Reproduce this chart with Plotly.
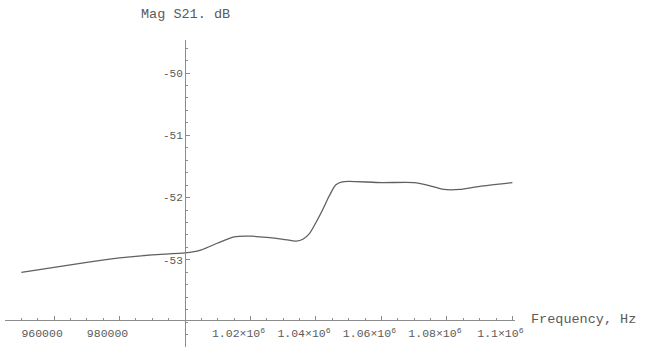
import plotly.graph_objects as go

# Measured transmission magnitude |S21| versus frequency
freq_hz = [950000, 960000, 970000, 980000, 990000, 1000000, 1005000, 1010000,
           1015000, 1020000, 1025000, 1030000, 1034000, 1036000, 1038000,
           1040000, 1042000, 1044000, 1046000, 1048000, 1050000, 1060000,
           1070000, 1074000, 1079000, 1084000, 1090000, 1100000]
mag_db = [-53.20, -53.12, -53.04, -52.97, -52.92, -52.89, -52.84, -52.73,
          -52.63, -52.62, -52.64, -52.67, -52.70, -52.67, -52.58,
          -52.40, -52.20, -51.98, -51.80, -51.75, -51.74, -51.76,
          -51.76, -51.80, -51.87, -51.87, -51.82, -51.76]

x_tick_vals = [960000, 980000, 1020000, 1040000, 1060000, 1080000, 1100000]
x_tick_text = ["960000", "980000", "1.02×10<sup>6</sup>", "1.04×10<sup>6</sup>",
               "1.06×10<sup>6</sup>", "1.08×10<sup>6</sup>", "1.1×10<sup>6</sup>"]
y_tick_vals = [-50, -51, -52, -53]
y_tick_text = ["-50", "-51", "-52", "-53"]

x_range = [945000, 1100800]
y_range = [-54.40, -49.47]
x_origin = 1000000   # where the vertical axis crosses
y_origin = -53.96    # where the horizontal axis crosses

ink = "#5a5a5a"
axis_ink = "#8c8c8c"
mono = "Liberation Mono, DejaVu Sans Mono, monospace"

fig = go.Figure(
    go.Scatter(
        x=freq_hz, y=mag_db, mode="lines",
        line=dict(color="#606060", width=1.3, shape="spline", smoothing=0.6),
        hoverinfo="skip",
    )
)

x_pos = (x_origin - x_range[0]) / (x_range[1] - x_range[0])
y_pos = (y_origin - y_range[0]) / (y_range[1] - y_range[0])

x_minor = [x_range[0] // 5000 * 5000 + 5000 * i for i in range(40)]
x_minor = [v for v in x_minor if x_range[0] <= v <= x_range[1]]
y_minor = [round(-54.4 + 0.2 * i, 2) for i in range(26)]

fig.update_xaxes(
    range=x_range, anchor="free", position=y_pos,
    showline=True, linecolor=axis_ink, linewidth=1,
    showgrid=False, zeroline=False,
    tickmode="array", tickvals=x_tick_vals, ticktext=x_tick_text,
    ticks="inside", ticklen=4, tickcolor=axis_ink, tickwidth=1,
    ticklabelshift=-12, ticklabelstandoff=3,
    tickfont=dict(family=mono, size=11.5, color=ink),
    minor=dict(tickmode="array", tickvals=x_minor, ticks="inside",
               ticklen=2, tickcolor=axis_ink, showgrid=False),
)
fig.update_yaxes(
    range=y_range, anchor="free", position=x_pos,
    showline=True, linecolor=axis_ink, linewidth=1,
    showgrid=False, zeroline=False,
    tickmode="array", tickvals=y_tick_vals, ticktext=y_tick_text,
    ticks="inside", ticklen=4, tickcolor=axis_ink, tickwidth=1,
    tickfont=dict(family=mono, size=11, color=ink),
    minor=dict(tickmode="array", tickvals=y_minor, ticks="inside",
               ticklen=2, tickcolor=axis_ink, showgrid=False),
)

fig.update_layout(
    width=648, height=354,
    margin=dict(l=5, r=133, t=40, b=7),
    plot_bgcolor="white", paper_bgcolor="white",
    showlegend=False,
    font=dict(family=mono, color=ink),
    annotations=[
        dict(text="Mag S21. dB", xref="x", yref="paper", x=x_origin, y=1.0,
             xanchor="center", yanchor="bottom", yshift=16, showarrow=False,
             font=dict(family=mono, size=13.5, color=ink)),
        dict(text="Frequency, Hz", xref="paper", yref="y", x=1.0, y=y_origin,
             xanchor="left", yanchor="middle", xshift=14, showarrow=False,
             font=dict(family=mono, size=13.5, color=ink)),
    ],
)

fig.write_html("out.html")
